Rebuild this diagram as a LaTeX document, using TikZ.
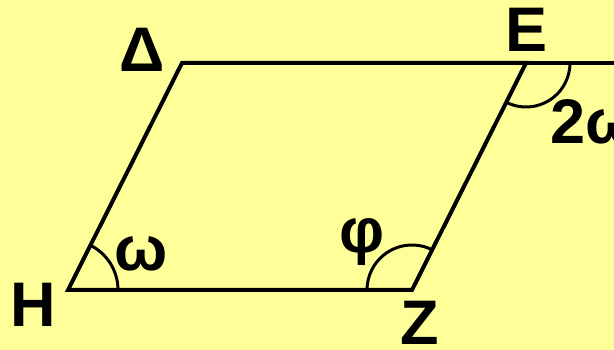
\documentclass[tikz,border=0pt]{standalone}
\usepackage{fontspec}
\setmainfont{Liberation Sans}
\usepackage{xcolor}
\usepackage{tikz}
\usetikzlibrary{positioning}
\definecolor{pgyellow}{RGB}{255,255,153}
\definecolor{pgdark}{RGB}{0,0,0}

\begin{document}
\begin{tikzpicture}[x=1pt,y=1pt,
  side/.style={line width=4pt,color=pgdark},
  ang/.style={line width=3pt,color=pgdark},
  lbl/.style={font=\fontsize{63}{70}\selectfont\bfseries,inner sep=0pt,text=pgdark}]
\fill[pgyellow] (0,0) rectangle (614,350);
\useasboundingbox (0,0) rectangle (614,350);
\coordinate (h) at (68,60); \coordinate (z) at (412,60);
\coordinate (d) at (182,287); \coordinate (e) at (526,287);
\coordinate (r) at (620,287);
\draw[side] (h) -- (z) -- (e) -- (d) -- cycle;
\draw[side] (e) -- (r);
% angle marks
\draw[ang] (h) ++(0:50pt) arc[start angle=0,end angle=63.34,radius=50pt];
\draw[ang] (z) ++(63.34:45pt) arc[start angle=63.34,end angle=180,radius=45pt];
\draw[ang] (e) ++(243.34:44pt) arc[start angle=243.34,end angle=360,radius=44pt];
\node[lbl] (ld) at (142,300) {Δ}; \node[lbl] (le) at (527,320) {E};
\node[lbl] (lh) at (33,45) {H}; \node[lbl] (lz) at (420,27) {Z};
\node[lbl] (lw) at (141,96) {ω}; \node[lbl] (lf) at (362,108) {φ};
\node[lbl,anchor=west] (l2w) at (550,228) {2ω};
\end{tikzpicture}
\end{document}
